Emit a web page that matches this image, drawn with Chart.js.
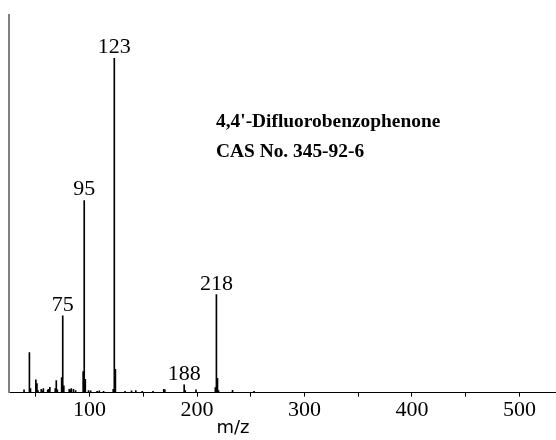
<!DOCTYPE html>
<html>
<head>
<meta charset="utf-8">
<script src="https://cdn.jsdelivr.net/npm/chart.js@4/dist/chart.umd.min.js"></script>
<style>
  html, body { margin: 0; padding: 0; background: #fff; }
  #wrap { width: 556px; height: 440px; }
</style>
</head>
<body>
<div id="wrap"><canvas id="ms" width="556" height="440"></canvas></div>
<script>
// EI mass spectrum of 4,4'-difluorobenzophenone (relative intensity, base peak = 100)
const mzValues = [39, 44, 45, 50, 51, 52, 55, 56, 57, 61, 62, 63, 68, 69, 70, 74, 75, 76,
  81, 82, 83, 85, 87, 94, 95, 96, 99, 101, 107, 109, 113, 122, 123, 124, 133, 139, 143,
  149, 159, 169, 170, 188, 189, 199, 217, 218, 219, 220, 233, 253];
const intensities = [0.8, 12, 1.2, 3.8, 2.7, 0.6, 1.0, 0.6, 1.2, 0.8, 1.0, 1.6, 1.2, 3.6, 0.8, 4.5, 23, 2.0,
  1.0, 0.8, 1.2, 1.0, 0.6, 6.3, 57.5, 4.0, 0.6, 0.5, 0.4, 0.5, 0.4, 1.0, 100, 7.0, 0.4, 0.5, 0.6,
  0.4, 0.4, 1.0, 0.8, 2.3, 0.6, 0.8, 1.5, 29.3, 4.3, 0.6, 0.7, 0.4];
const labelledPeaks = [75, 95, 123, 188, 218];
const xTicks = [100, 200, 300, 400, 500];
const compoundName = "4,4'-Difluorobenzophenone";
const casNumber = "CAS No. 345-92-6";
const axisTitle = "m/z";

const points = mzValues.map((m, i) => ({ x: m, y: intensities[i] }));

const serif = "'Liberation Serif', 'Times New Roman', serif";

const peakLabels = {
  id: 'peakLabels',
  afterDatasetsDraw(chart) {
    const { ctx, scales } = chart;
    ctx.save();
    ctx.fillStyle = '#000';
    ctx.font = '22px ' + serif;
    ctx.textAlign = 'center';
    ctx.textBaseline = 'alphabetic';
    labelledPeaks.forEach(m => {
      const v = intensities[mzValues.indexOf(m)];
      const px = scales.x.getPixelForValue(m);
      const py = scales.y.getPixelForValue(v);
      ctx.fillText(String(m), px, py - 5);
    });
    // compound identification
    ctx.textAlign = 'left';
    ctx.font = 'bold 19.4px ' + serif;
    ctx.fillText(compoundName, 216, 127);
    ctx.fillText(casNumber, 216, 157);
    // axis title
    ctx.textAlign = 'center';
    ctx.font = "18px 'DejaVu Sans', sans-serif";
    ctx.fillText(axisTitle, 233, 433);
    ctx.restore();
  }
};

new Chart(document.getElementById('ms'), {
  type: 'bar',
  data: {
    datasets: [{
      data: points,
      backgroundColor: '#000',
      borderWidth: 0,
      barThickness: 1,
      categoryPercentage: 1,
      barPercentage: 1
    }]
  },
  options: {
    responsive: false,
    animation: false,
    layout: { padding: { left: 9, right: 0, top: 15, bottom: 17 } },
    plugins: { legend: { display: false }, tooltip: { enabled: false } },
    scales: {
      x: {
        type: 'linear',
        offset: false,
        min: 25,
        max: 534,
        border: { color: '#000', width: 1 },
        grid: { display: true, offset: false, drawOnChartArea: false, drawTicks: true, tickLength: 4, color: '#000' },
        ticks: {
          stepSize: 50,
          includeBounds: false,
          autoSkip: false,
          maxRotation: 0,
          padding: 0,
          color: '#000',
          font: { family: serif, size: 22 },
          callback: v => (xTicks.includes(v) ? String(v) : '')
        }
      },
      y: {
        min: 0,
        max: 113,
        ticks: { display: false },
        grid: { display: false, drawTicks: false },
        border: { color: '#808080', width: 2 }
      }
    }
  },
  plugins: [peakLabels]
});
</script>
</body>
</html>
